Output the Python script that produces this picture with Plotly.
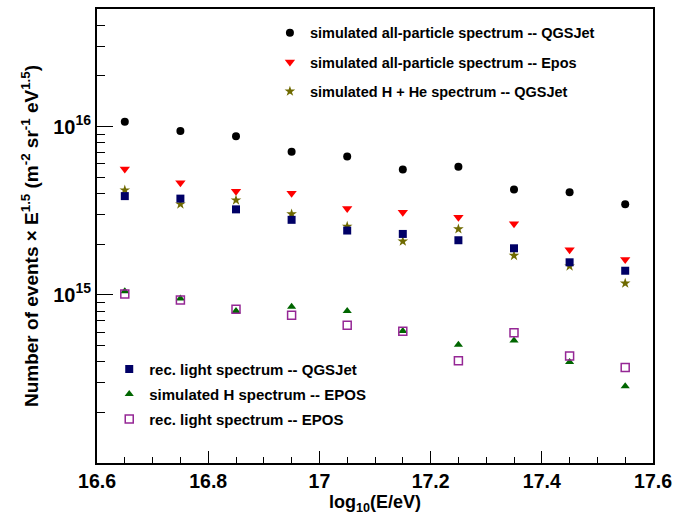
import plotly.graph_objects as go

log_e = [16.65, 16.75, 16.85, 16.95, 17.05, 17.15, 17.25, 17.35, 17.45, 17.55]

all_qgsjet = [1.07e16, 9.4e15, 8.77e15, 7.09e15, 6.63e15, 5.55e15, 5.78e15, 4.23e15, 4.07e15, 3.45e15]
all_epos = [5.6e15, 4.63e15, 4.13e15, 4.02e15, 3.26e15, 3.10e15, 2.89e15, 2.64e15, 1.85e15, 1.62e15]
hhe_qgsjet = [4.19e15, 3.46e15, 3.65e15, 3.02e15, 2.55e15, 2.08e15, 2.46e15, 1.71e15, 1.48e15, 1.17e15]
rec_light_qgsjet = [3.86e15, 3.73e15, 3.22e15, 2.79e15, 2.41e15, 2.30e15, 2.11e15, 1.89e15, 1.56e15, 1.39e15]
sim_h_epos = [1.05e15, 9.5e14, 8.0e14, 8.5e14, 8.0e14, 6.1e14, 5.05e14, 5.35e14, 3.98e14, 2.86e14]
rec_light_epos = [1.01e15, 9.3e14, 8.2e14, 7.55e14, 6.59e14, 6.07e14, 4.06e14, 5.94e14, 4.32e14, 3.69e14]

x_ticks = [16.6, 16.8, 17.0, 17.2, 17.4, 17.6]
x_labels = ["16.6", "16.8", "17", "17.2", "17.4", "17.6"]
y_ticks = [1e15, 1e16]
y_labels = ["10<sup>15</sup>", "10<sup>16</sup>"]
y_minor = [m * 10 ** e for e in (14, 15) for m in range(2, 10)] + [2e16, 3e16, 4e16, 5e16]

FONT = "Liberation Sans"

series = [
    ("simulated all-particle spectrum -- QGSJet", all_qgsjet,
     dict(symbol="circle", size=8, color="#000000"), "legend", "g1"),
    ("simulated all-particle spectrum -- Epos", all_epos,
     dict(symbol="triangle-down", size=9, color="#ff0000"), "legend", "g2"),
    ("simulated H + He spectrum -- QGSJet", hhe_qgsjet,
     dict(symbol="star", size=8, color="#6f6a00"), "legend", "g3"),
    ("rec. light spectrum -- QGSJet", rec_light_qgsjet,
     dict(symbol="square", size=8, color="#000066"), "legend2", "g4"),
    ("simulated H spectrum -- EPOS", sim_h_epos,
     dict(symbol="triangle-up", size=8, color="#006600"), "legend2", "g5"),
    ("rec. light spectrum -- EPOS", rec_light_epos,
     dict(symbol="square-open", size=8, color="#952795", line=dict(width=1.5, color="#952795")),
     "legend2", "g6"),
]

fig = go.Figure()
for name, vals, marker, leg, grp in series:
    fig.add_trace(go.Scatter(
        x=log_e, y=vals, mode="markers", name=name, marker=marker,
        legend=leg, legendgroup=grp,
    ))

fig.update_layout(
    width=685, height=516,
    margin=dict(l=97, r=32, t=7, b=52),
    plot_bgcolor="white", paper_bgcolor="white",
    font=dict(family=FONT, color="black"),
    showlegend=True,
    legend=dict(
        x=0.311, y=0.983, xanchor="left", yanchor="top",
        font=dict(family=FONT, size=14.5, weight="bold"),
        bgcolor="rgba(0,0,0,0)", tracegroupgap=7.5, traceorder="grouped",
    ),
    legend2=dict(
        x=0.022, y=0.243, xanchor="left", yanchor="top",
        font=dict(family=FONT, size=15, weight="bold"),
        bgcolor="rgba(0,0,0,0)", tracegroupgap=2.5, traceorder="grouped",
    ),
)

fig.update_xaxes(
    range=[16.6, 17.6], tickvals=x_ticks, ticktext=x_labels,
    ticks="inside", ticklen=12, tickwidth=1.2, tickcolor="black",
    minor=dict(ticks="inside", ticklen=6, dtick=0.05, tick0=16.6, tickcolor="black", tickwidth=1.2),
    showline=True, linewidth=2, linecolor="black", mirror=True,
    showgrid=False, zeroline=False,
    tickfont=dict(family=FONT, size=19.5, weight="bold"),
    title=dict(text="log<sub>10</sub>(E/eV)", font=dict(family=FONT, size=18, weight="bold"), standoff=4),
)
fig.update_yaxes(
    type="log", range=[14, 16.699], tickvals=y_ticks, ticktext=y_labels,
    ticks="inside", ticklen=16, tickwidth=1.2, tickcolor="black",
    minor=dict(ticks="inside", ticklen=8, tickvals=y_minor, tickcolor="black", tickwidth=1.2),
    showline=True, linewidth=2, linecolor="black", mirror=True,
    showgrid=False, zeroline=False,
    tickfont=dict(family=FONT, size=20, weight="bold"),
    title=dict(text="Number of events × E<sup>1.5</sup> (m<sup>-2</sup> sr<sup>-1</sup> eV<sup>1.5</sup>)",
               font=dict(family=FONT, size=19, weight="bold"), standoff=10),
)

fig.write_html("out.html", config={"displayModeBar": False},
               post_script="document.body.style.margin='0';")
